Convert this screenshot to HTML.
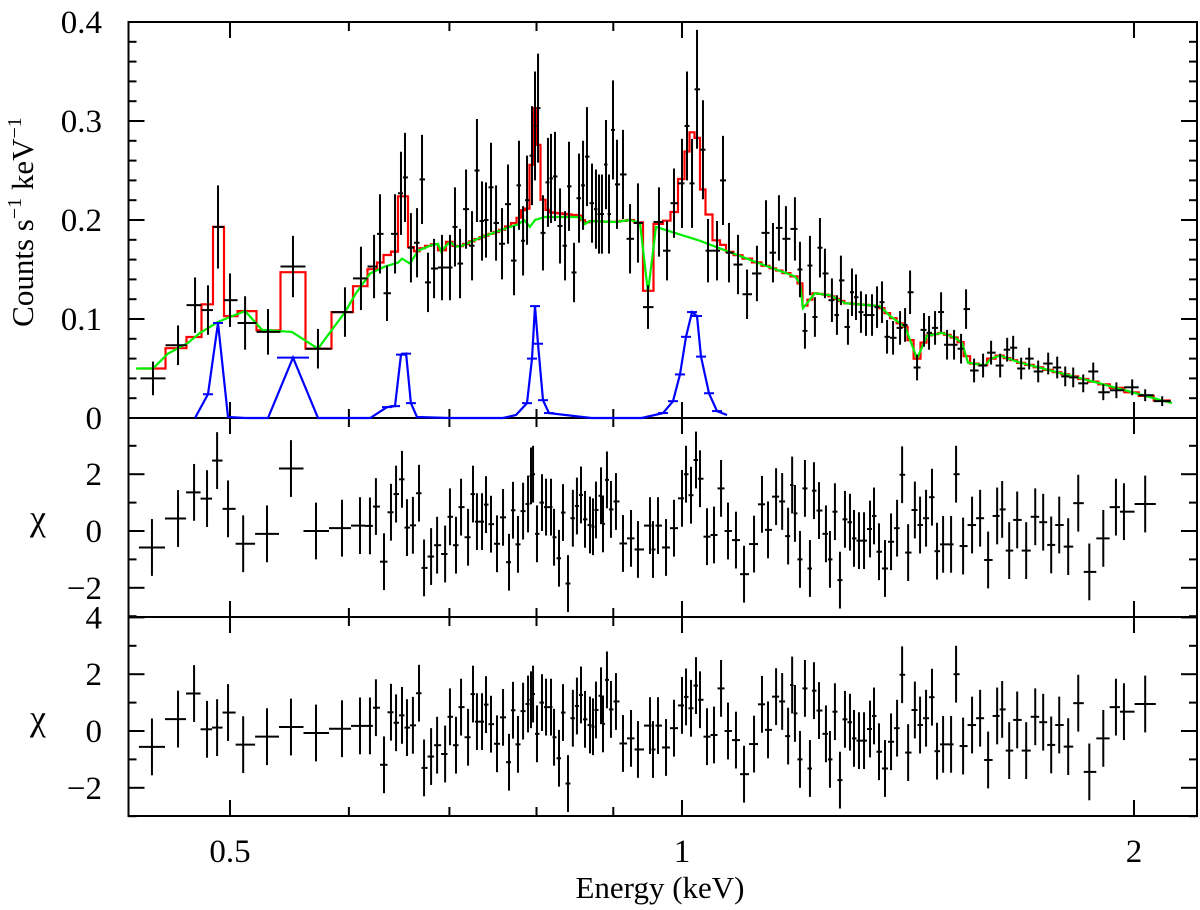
<!DOCTYPE html>
<html><head><meta charset="utf-8">
<style>
html,body{margin:0;padding:0;background:#fff;}
svg{display:block;}
text{font-family:"Liberation Serif","DejaVu Serif",serif;}
</style></head>
<body>
<svg id="chart" width="1200" height="910" viewBox="0 0 1200 910" xmlns="http://www.w3.org/2000/svg" font-family="Liberation Serif, serif">
<g id="frames"></g>
<g id="ticks"></g>
<g id="labels"></g>
<g id="series"></g>
<text font-family="Liberation Serif, serif" transform="translate(33,222) rotate(-90)" text-anchor="middle" font-size="31">Counts s<tspan font-size="20" dy="-12">−1</tspan><tspan dy="12"> keV</tspan><tspan font-size="20" dy="-12">−1</tspan></text>
<text font-family="Liberation Serif, serif" x="38" y="530" text-anchor="middle" font-size="36">χ</text>
<text font-family="Liberation Serif, serif" x="38" y="730" text-anchor="middle" font-size="36">χ</text>
<text font-family="Liberation Serif, serif" x="660" y="898" text-anchor="middle" font-size="31">Energy (keV)</text>
</svg>
<script>
// ---- data: top panel spectrum ----
const dataE = [0.4443,0.4617,0.4739,0.4834,0.4909,0.5000,0.5117,0.5300,0.5507,0.5722,0.5964,0.6112,0.6236,0.6293,0.6361,0.6440,0.6499,0.6539,0.6599,0.6661,0.6712,0.6774,0.6837,0.6921,0.7006,0.7060,0.7115,0.7181,0.7247,0.7302,0.7359,0.7404,0.7461,0.7519,0.7588,0.7658,0.7729,0.7788,0.7837,0.7885,0.7945,0.7982,0.8019,0.8080,0.8142,0.8180,0.8230,0.8294,0.8358,0.8409,0.8474,0.8539,0.8592,0.8644,0.8711,0.8764,0.8805,0.8845,0.8900,0.8941,0.8996,0.9051,0.9135,0.9234,0.9347,0.9492,0.9653,0.9773,0.9878,1.0000,1.0077,1.0155,1.0233,1.0327,1.0407,1.0552,1.0649,1.0747,1.0897,1.1049,1.1218,1.1375,1.1497,1.1603,1.1728,1.1891,1.1983,1.2075,1.2168,1.2261,1.2356,1.2451,1.2585,1.2682,1.2760,1.2898,1.2978,1.3058,1.3158,1.3260,1.3383,1.3486,1.3590,1.3695,1.3822,1.3971,1.4079,1.4187,1.4340,1.4494,1.4606,1.4741,1.4878,1.5015,1.5177,1.5341,1.5459,1.5650,1.5868,1.6064,1.6289,1.6465,1.6617,1.6822,1.7030,1.7267,1.7534,1.7778,1.7998,1.8220,1.8502,1.8788,1.9080,1.9467,1.9945,2.0346,2.0884];
const dataCounts = [0.040,0.0735,0.114,0.109,0.193,0.119,0.096,0.087,0.153,0.070,0.107,0.141,0.153,0.186,0.126,0.186,0.227,0.243,0.172,0.177,0.241,0.137,0.151,0.152,0.152,0.193,0.156,0.211,0.174,0.250,0.199,0.200,0.233,0.197,0.176,0.216,0.159,0.235,0.179,0.220,0.265,0.295,0.313,0.187,0.238,0.242,0.244,0.194,0.174,0.234,0.147,0.222,0.235,0.264,0.217,0.211,0.206,0.206,0.256,0.206,0.291,0.236,0.246,0.181,0.197,0.112,0.198,0.169,0.217,0.237,0.295,0.237,0.332,0.271,0.169,0.169,0.240,0.167,0.155,0.125,0.146,0.187,0.167,0.192,0.181,0.191,0.150,0.088,0.154,0.102,0.172,0.146,0.119,0.104,0.139,0.092,0.127,0.122,0.107,0.104,0.104,0.112,0.117,0.082,0.081,0.091,0.094,0.127,0.051,0.089,0.086,0.091,0.107,0.074,0.074,0.070,0.110,0.048,0.053,0.066,0.053,0.069,0.071,0.050,0.060,0.047,0.055,0.051,0.042,0.041,0.035,0.047,0.026,0.028,0.031,0.023,0.017];
const dataErr = [0.017,0.020,0.028,0.025,0.042,0.027,0.027,0.023,0.031,0.020,0.025,0.032,0.032,0.040,0.028,0.040,0.042,0.045,0.035,0.035,0.045,0.030,0.030,0.033,0.033,0.040,0.035,0.040,0.035,0.052,0.040,0.038,0.045,0.038,0.036,0.040,0.035,0.045,0.035,0.045,0.050,0.055,0.055,0.038,0.045,0.045,0.045,0.038,0.035,0.045,0.030,0.045,0.045,0.050,0.040,0.040,0.040,0.040,0.045,0.040,0.050,0.045,0.045,0.035,0.040,0.022,0.035,0.030,0.035,0.045,0.055,0.045,0.060,0.050,0.032,0.030,0.045,0.030,0.030,0.025,0.028,0.033,0.030,0.033,0.033,0.032,0.028,0.018,0.030,0.020,0.030,0.025,0.022,0.020,0.025,0.018,0.024,0.023,0.021,0.021,0.021,0.021,0.021,0.017,0.017,0.017,0.017,0.022,0.013,0.017,0.017,0.017,0.020,0.015,0.015,0.015,0.020,0.012,0.012,0.012,0.012,0.012,0.012,0.011,0.011,0.011,0.011,0.011,0.010,0.010,0.009,0.009,0.008,0.008,0.008,0.006,0.005];
// ---- continuum model (green) ----
const contE = [0.4329,0.4443,0.4546,0.4689,0.4775,0.4909,0.5000,0.5117,0.5252,0.5498,0.5722,0.5964,0.6065,0.6198,0.6342,0.6470,0.6509,0.6589,0.6671,0.6795,0.6879,0.6911,0.6963,0.7006,0.7071,0.7137,0.7335,0.7682,0.7788,0.7849,0.7921,0.7982,0.8105,0.8553,0.8618,0.8684,0.9024,0.9234,0.9376,0.9492,0.9609,1.0280,1.1271,1.1891,1.1983,1.2038,1.2130,1.2261,1.2547,1.2839,1.3548,1.3757,1.4079,1.4340,1.4560,1.4899,1.5199,1.5363,1.5505,1.5914,1.6064,1.6289,1.6793,1.8984,2.0497,2.1200];
const contVal = [0.050,0.050,0.065,0.076,0.086,0.097,0.102,0.108,0.089,0.087,0.070,0.107,0.126,0.146,0.153,0.157,0.161,0.156,0.169,0.174,0.176,0.168,0.174,0.178,0.173,0.174,0.182,0.193,0.196,0.200,0.193,0.200,0.203,0.203,0.196,0.199,0.198,0.200,0.197,0.127,0.193,0.179,0.156,0.143,0.136,0.111,0.117,0.126,0.124,0.116,0.113,0.103,0.092,0.060,0.083,0.086,0.081,0.076,0.056,0.053,0.060,0.063,0.056,0.035,0.021,0.015];
// ---- line components (blue) ----
const lineE = [0.4739,0.4834,0.4909,0.4985,0.5117,0.5300,0.5507,0.5722,0.6200,0.6361,0.6440,0.6499,0.6550,0.6599,0.6661,0.7000,0.7600,0.7753,0.7885,0.7945,0.7982,0.8019,0.8080,0.8155,0.8700,0.9400,0.9713,0.9863,0.9969,1.0062,1.0155,1.0233,1.0296,1.0423,1.0552,1.0715];
const lineVal = [0.000,0.024,0.096,0.001,0.000,0.000,0.061,0.000,0.000,0.011,0.012,0.064,0.065,0.015,0.001,0.000,0.000,0.003,0.015,0.060,0.113,0.075,0.018,0.005,0.000,0.000,0.005,0.017,0.044,0.082,0.107,0.103,0.062,0.025,0.007,0.003];
// ---- residuals ----
const chiE = [0.4436,0.4617,0.4732,0.4827,0.4902,0.4985,0.5102,0.5292,0.5490,0.5705,0.5937,0.6103,0.6197,0.6254,0.6332,0.6400,0.6450,0.6509,0.6559,0.6619,0.6681,0.6733,0.6806,0.6869,0.6954,0.7006,0.7071,0.7126,0.7203,0.7258,0.7302,0.7359,0.7404,0.7461,0.7530,0.7600,0.7670,0.7717,0.7776,0.7837,0.7897,0.7933,0.7958,0.8006,0.8068,0.8118,0.8180,0.8218,0.8281,0.8332,0.8396,0.8459,0.8512,0.8565,0.8618,0.8684,0.8724,0.8764,0.8832,0.8859,0.8913,0.8968,0.9037,0.9135,0.9248,0.9347,0.9521,0.9565,0.9639,0.9758,0.9878,1.0000,1.0062,1.0139,1.0217,1.0280,1.0391,1.0503,1.0617,1.0731,1.0863,1.0998,1.1168,1.1305,1.1410,1.1552,1.1660,1.1767,1.1840,1.1891,1.1983,1.2075,1.2168,1.2243,1.2338,1.2470,1.2547,1.2643,1.2741,1.2839,1.2938,1.3018,1.3118,1.3220,1.3342,1.3424,1.3527,1.3652,1.3779,1.3907,1.4015,1.4145,1.4292,1.4406,1.4539,1.4672,1.4786,1.4924,1.5108,1.5224,1.5389,1.5602,1.5796,1.5991,1.6214,1.6339,1.6516,1.6720,1.6952,1.7189,1.7400,1.7615,1.7833,1.8080,1.8361,1.8675,1.9080,1.9454,1.9694,2.0346];
const chiLines = [-0.58,0.44,1.36,1.14,2.48,0.78,-0.45,-0.10,2.20,0.00,0.10,0.19,0.18,0.86,-1.08,0.66,1.30,1.82,0.12,0.20,1.33,-1.30,-0.90,-0.50,-0.81,0.50,-0.50,0.84,-0.22,1.30,0.33,0.33,0.93,0.24,-0.45,0.48,-1.10,0.73,-0.47,0.70,0.95,1.94,2.00,-0.10,1.00,0.84,0.84,-0.22,-0.96,0.65,-1.85,0.45,0.88,1.27,0.41,0.21,0.15,0.74,1.24,0.25,1.80,0.76,1.04,-0.44,-0.26,-0.65,0.19,-0.65,0.19,-0.58,0.10,1.15,2.00,1.26,2.50,1.84,-0.20,-0.14,1.50,0.00,-0.32,-1.52,-0.46,0.94,0.04,1.21,1.04,-0.18,1.62,0.62,-1.00,1.50,-1.32,1.42,0.72,-0.10,-1.00,0.68,-1.73,0.41,0.31,-0.26,-0.34,-0.34,0.07,0.53,-0.73,-1.32,-0.38,0.10,1.98,-0.76,0.74,0.21,0.45,1.19,-0.71,-0.47,-0.47,2.00,-0.53,0.21,0.45,-1.02,0.53,0.76,-0.69,0.39,-0.69,0.50,0.31,-0.49,0.21,-0.55,0.98,-1.44,-0.26,0.84,0.68,0.95];
const chiNoLines = [-0.56,0.42,1.32,0.06,0.12,0.65,-0.48,-0.20,0.14,-0.07,0.08,0.18,0.18,0.82,-1.19,0.66,0.29,0.55,0.12,0.20,1.33,-1.30,-0.90,-0.50,-0.81,0.50,-0.50,0.84,-0.22,1.30,0.33,0.33,0.93,0.24,-0.45,0.48,-1.10,0.73,-0.47,0.70,0.95,1.10,1.30,-0.10,1.00,0.84,0.84,-0.22,-0.96,0.65,-1.85,0.45,0.88,1.27,0.41,0.21,0.15,0.74,1.24,0.25,1.80,0.76,1.04,-0.44,-0.26,-0.65,0.19,-0.65,0.19,-0.58,0.10,0.90,1.20,0.80,1.60,1.10,-0.20,-0.14,1.50,0.00,-0.32,-1.52,-0.46,0.94,0.04,1.21,1.04,-0.18,1.62,0.62,-1.00,1.50,-1.32,1.42,0.72,-0.10,-1.00,0.68,-1.73,0.41,0.31,-0.26,-0.34,-0.34,0.07,0.53,-0.73,-1.32,-0.38,0.10,1.98,-0.76,0.74,0.21,0.45,1.19,-0.71,-0.47,-0.47,2.00,-0.53,0.21,0.45,-1.02,0.53,0.76,-0.69,0.39,-0.69,0.50,0.31,-0.49,0.21,-0.55,0.98,-1.44,-0.26,0.84,0.68,0.95];
const topTickVals = [0,0.1,0.2,0.3,0.4];
const topTickLabels = ["0","0.1","0.2","0.3","0.4"];
const chiTickVals = [-2,0,2,4];
const chiTickLabels = ["−2","0","2","4"];
const xMajorVals = [0.5,1,2];
const xMajorLabels = ["0.5","1","2"];
const xMinorVals = [0.6,0.7,0.8,0.9];

// ---- layout ----
const L=128.5, R=1197, T=22, B1=418, B2=617, B3=816;
const NS="http://www.w3.org/2000/svg";
const FONT="Liberation Serif, serif";
function xs(e){return 682+452*Math.log2(e);}
function yTop(v){return B1-v*990;}
function yC2(c){return 531-c*28.4;}
function yC3(c){return 731-c*28.4;}
function mk(tag,attrs,parent){const el=document.createElementNS(NS,tag);for(const k in attrs)el.setAttribute(k,attrs[k]);parent.appendChild(el);return el;}
const gF=document.getElementById('frames'),gT=document.getElementById('ticks'),gL=document.getElementById('labels'),gS=document.getElementById('series');

[[T,B1,'top-panel-frame'],[B1,B2,'residual-panel-1-frame'],[B2,B3,'residual-panel-2-frame']].forEach(p=>{
  const r=mk('rect',{x:L,y:p[0],width:R-L,height:p[1]-p[0],fill:'none',stroke:'#000','stroke-width':2},gF);
  
  
});
const panels=[[T,B1],[B1,B2],[B2,B3]];
panels.forEach(p=>{
  xMajorVals.concat(xMinorVals).forEach(v=>{
    const x=xs(v);
    const len=xMajorVals.includes(v)?16:9;
    const a=mk('line',{x1:x,x2:x,y1:p[0],y2:p[0]+len,stroke:'#000','stroke-width':2},gT);
    
    
    const b=mk('line',{x1:x,x2:x,y1:p[1],y2:p[1]-len,stroke:'#000','stroke-width':2},gT);
    
    
  });
});
xMajorVals.forEach((v,i)=>{
  const t=mk('text',{x:xs(v),y:862,'text-anchor':'middle','font-size':33,'font-family':FONT},gL);
  t.textContent=xMajorLabels[i];
  
  
});
for(let k=0;k<=20;k++){
  const v=k*0.02, y=yTop(v), len=(k%5===0)?16:8;
  [[L,L+len],[R,R-len]].forEach(s=>{
    const l=mk('line',{x1:s[0],x2:s[1],y1:y,y2:y,stroke:'#000','stroke-width':2},gT);
    
    
  });
}
topTickVals.forEach((v,i)=>{
  const t=mk('text',{x:102,y:yTop(v)+11,'text-anchor':'end','font-size':33,'font-family':FONT},gL);
  t.textContent=topTickLabels[i];
  
  
});
[[yC2,B1,B2],[yC3,B2,B3]].forEach((p,pi)=>{
  for(let c=-3;c<=4;c++){
    const y=p[0](c); if(y<p[1]-0.5||y>p[2]+0.5) continue;
    const len=(c%2===0)?16:8;
    [[L,L+len],[R,R-len]].forEach(s=>{
      const l=mk('line',{x1:s[0],x2:s[1],y1:y,y2:y,stroke:'#000','stroke-width':2},gT);
      
      
    });
  }
  chiTickVals.forEach((v,i)=>{
    const y=p[0](v);
    if(v===4 && pi===0) return;
    const t=mk('text',{x:102,y:y+11,'text-anchor':'end','font-size':33,'font-family':FONT},gL);
    t.textContent=chiTickLabels[i];
    
    
  });
});

function halfW(arr,i){
  const x=xs(arr[i]);
  const xl=i>0?(x+xs(arr[i-1]))/2:x-(xs(arr[i+1])-x)/2;
  const xr=i<arr.length-1?(x+xs(arr[i+1]))/2:x+(x-xs(arr[i-1]))/2;
  return [xl,xr];
}
function interp(E,V,e){
  if(e<E[0]||e>E[E.length-1]) return 0;
  for(let i=0;i<E.length-1;i++){
    if(e>=E[i]&&e<=E[i+1]){const t=(Math.log(e)-Math.log(E[i]))/(Math.log(E[i+1])-Math.log(E[i]));return V[i]+t*(V[i+1]-V[i]);}
  }
  return V[V.length-1];
}

// total model (red) as step histogram over data bins = continuum + lines
let redPts=[];
dataE.forEach((e,i)=>{
  const [xl,xr]=halfW(dataE,i);
  const y=yTop(interp(contE,contVal,e)+interp(lineE,lineVal,e)).toFixed(1);
  redPts.push(xl.toFixed(1)+','+y, xr.toFixed(1)+','+y);
});
const red=mk('polyline',{points:redPts.join(' '),fill:'none',stroke:'#ff0000','stroke-width':2.2},gS);


const green=mk('polyline',{points:contE.map((e,i)=>xs(e).toFixed(1)+','+yTop(contVal[i]).toFixed(1)).join(' '),fill:'none',stroke:'#00ee00','stroke-width':2.2},gS);


const blue=mk('polyline',{points:lineE.map((e,i)=>xs(e).toFixed(1)+','+yTop(lineVal[i]).toFixed(1)).join(' '),fill:'none',stroke:'#0000ff','stroke-width':2.2},gS);


lineE.forEach((e,i)=>{
  if(lineVal[i]<0.004) return;
  const x=xs(e),y=yTop(lineVal[i]),w=(i===6)?16:5;
  const m=mk('line',{x1:x-w,x2:x+w,y1:y,y2:y,stroke:'#0000ff','stroke-width':2},gS);
  
  
});

function drawErr(E,vals,errs,yf,name){
  E.forEach((e,i)=>{
    const [xl,xr]=halfW(E,i), x=xs(e), y=yf(vals[i]);
    const y1=yf(vals[i]+errs[i]), y2=yf(vals[i]-errs[i]);
    const g=mk('g',{},gS);
    
    
    mk('line',{x1:xl,x2:xr,y1:y,y2:y,stroke:'#000','stroke-width':2},g);
    mk('line',{x1:x,x2:x,y1:y1,y2:y2,stroke:'#000','stroke-width':2},g);
  });
}
drawErr(dataE,dataCounts,dataErr,yTop,'data-point');
drawErr(chiE,chiLines,chiE.map(()=>1),yC2,'residual-point-with-lines');
drawErr(chiE,chiNoLines,chiE.map(()=>1),yC3,'residual-point-without-lines');
</script>
</body></html>
